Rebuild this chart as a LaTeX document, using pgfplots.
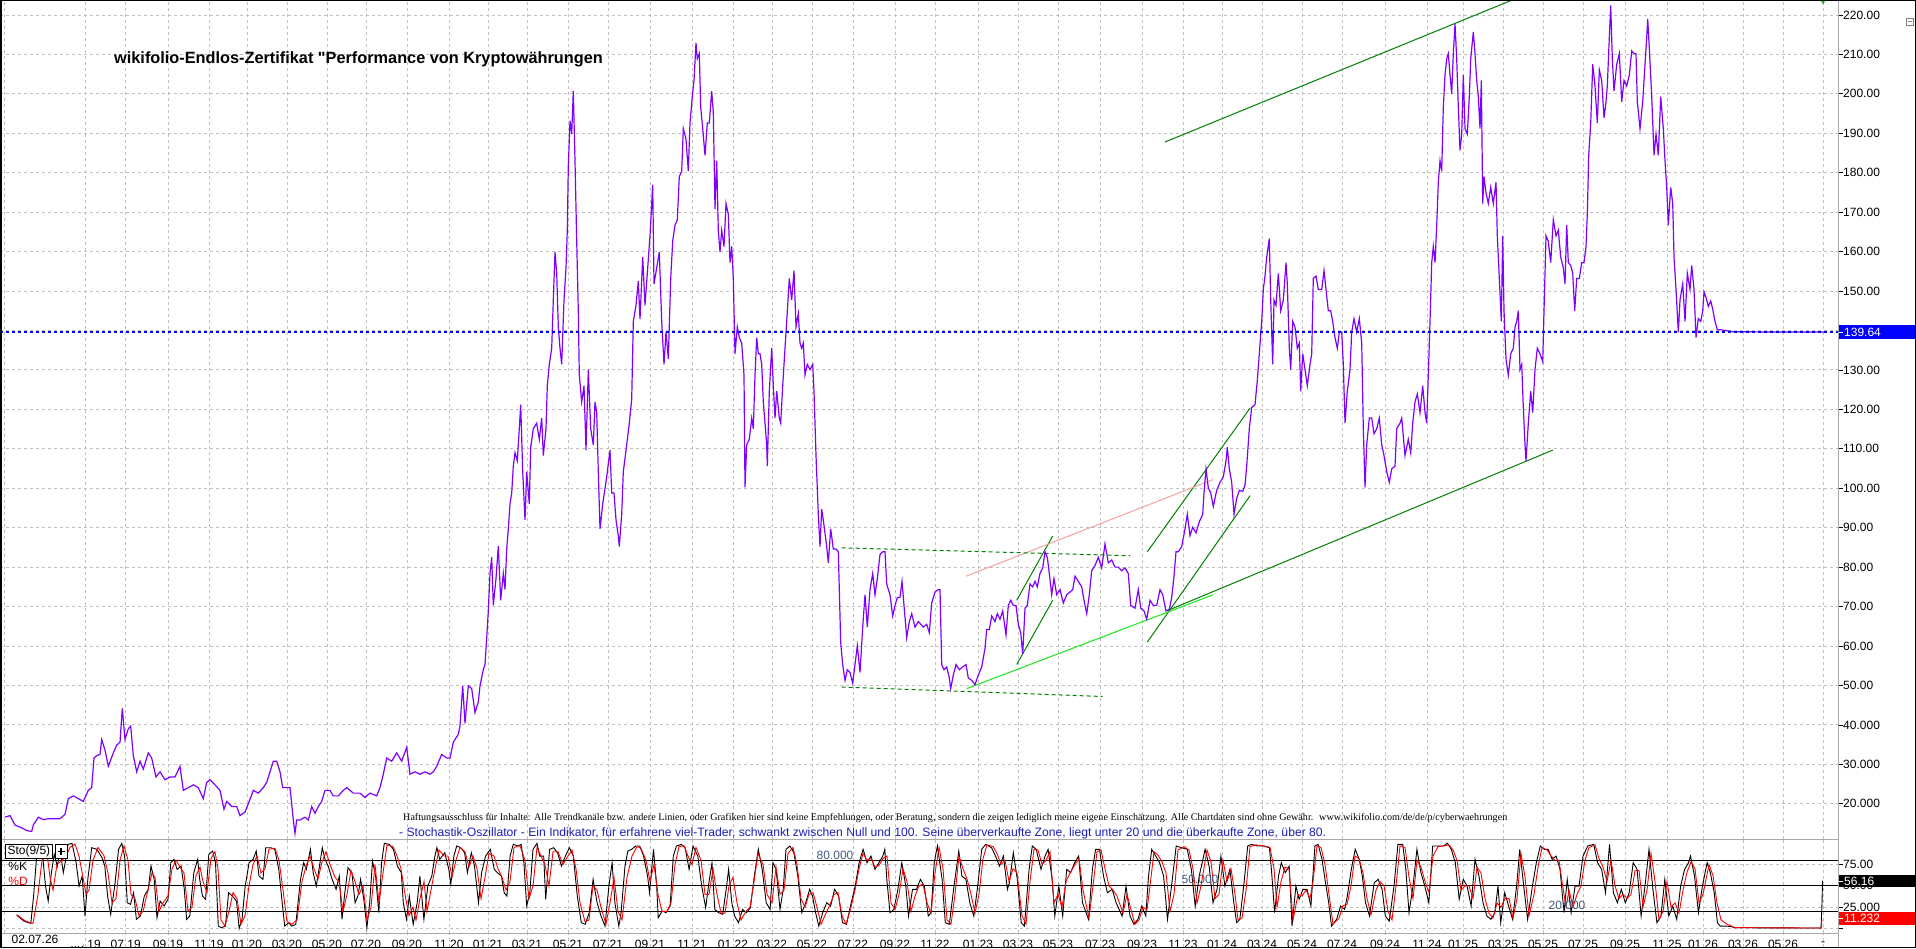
\documentclass[border=0pt]{standalone}
\usepackage{fontspec}
\setmainfont{Liberation Sans}
\newfontfamily\timesfont{Liberation Serif}
\newfontfamily\titlefont{Liberation Sans Bold}
\usepackage{graphicx}
\usepackage{pgfplots}
\pgfplotsset{compat=1.18}
\definecolor{pricecol}{RGB}{128,0,255}
\definecolor{gridcol}{RGB}{192,192,192}
\definecolor{dkgreen}{RGB}{0,128,0}
\definecolor{limegreen}{RGB}{40,230,40}
\definecolor{pinkline}{RGB}{245,160,160}
\definecolor{navytext}{RGB}{30,30,190}
\definecolor{stolabel}{RGB}{70,90,130}
\definecolor{axisgray}{RGB}{170,170,170}
\begin{document}
\begin{tikzpicture}[x=1pt,y=1pt]
\fill[white] (0,0) rectangle (1916,948);
\useasboundingbox (0,0) rectangle (1916,948);
\pgfplotsset{
  gstyle/.style={dash pattern=on 3pt off 3pt, color=gridcol, line width=0.9pt},
}
% ---------------- main price panel ----------------
\begin{axis}[
  at={(0pt,109pt)}, anchor=south west,
  scale only axis, width=1838pt, height=839pt,
  xmin=0, xmax=1838, ymin=11.07, ymax=223.8,
  xtick={4.7,85.7,125.7,168,209,247,287,327,366,407,449,488,527,568,608,650,692,733,772,812,853,895,935,978,1018,1058,1100,1142,1183,1222,1262,1302,1342,1385,1427,1463,1503,1543,1583,1625,1667,1703,1743,1783,1823},
  xticklabels={},
  xtick style={draw=none},
  ytick={20,30,40,50,60,70,80,90,100,110,120,130,140,150,160,170,180,190,200,210,220},
  yticklabels={20.000,30.000,40.000,50.00,60.00,70.00,80.00,90.00,100.00,110.00,120.00,130.00,140.00,150.00,160.00,170.00,180.00,190.00,200.00,210.00,220.00},
  ytick pos=right, tick align=outside, major tick length=4.5pt,
  ytick style={black, line width=0.8pt},
  yticklabel style={font=\fontsize{12}{12}\selectfont, anchor=west, inner sep=0pt, xshift=0.5pt},
  grid=major, major grid style={gstyle},
  axis line style={draw=axisgray, line width=0.8pt},
]
% trend lines
\addplot[dkgreen, line width=1pt] coordinates {(1165,187.8) (1520,224.6)};
\addplot[dkgreen, line width=1pt] coordinates {(1166.7,68.9) (1553,109.7)};
\addplot[dkgreen, line width=1pt] coordinates {(1016.7,71.6) (1052.7,87.9)};
\addplot[dkgreen, line width=1pt] coordinates {(1016.7,55.3) (1052.7,71.6)};
\addplot[dkgreen, line width=1pt] coordinates {(1147.3,83.9) (1250,120.3)};
\addplot[dkgreen, line width=1pt] coordinates {(1147.3,61.0) (1250,98.1)};
\addplot[pinkline, line width=1pt] coordinates {(966,77.7) (1213,102.2)};
\addplot[limegreen, line width=1.1pt] coordinates {(966.7,49.2) (1213.3,73.0)};
\addplot[dkgreen, line width=1pt, dash pattern=on 4pt off 3pt] coordinates {(841.7,84.9) (1130,82.9)};
\addplot[dkgreen, line width=1pt, dash pattern=on 4pt off 3pt] coordinates {(841.7,49.6) (1102.7,47.2)};
% price
\addplot[pricecol, line width=1.2pt] coordinates {
(4.7,16.6) (10,17.0) (15,14.6) (21.7,13.9) (26.7,13.2) (31.7,13.0) (33.3,14.6) (38.3,16.6) (43.3,16.0) (48.3,16.2) (53.3,16.2) (60,16.2) (65,17.3) (68.3,21.3) (73.3,22.0) (78.3,21.3) (83.3,20.6) (88.3,23.4) (91.7,24.1) (94,31.6) (96.7,32.2) (100,32.5) (101.7,36.3) (105,33.6) (108.3,29.5) (113.3,32.9) (116.7,34.9) (120,35.6) (122.3,44.2) (125,36.3) (128.3,39.0) (130.7,39.7) (133.3,32.2) (136.7,28.1) (140,30.8) (143.3,28.8) (148.3,32.9) (151.7,31.6) (156,26.8) (160,28.1) (165,26.1) (170,26.8) (175,26.8) (180,29.5) (183.3,23.4) (188.3,24.1) (193.3,24.8) (198.3,24.1) (203.3,21.3) (206.7,25.4) (210,26.1) (215,24.8) (220,23.4) (224,18.6) (226.7,20.6) (231.7,19.3) (236.7,19.3) (240,17.0) (245,17.9) (248.3,20.0) (253.3,23.4) (258.3,22.7) (263.3,24.1) (266.7,25.4) (270,28.1) (273.3,30.8) (276.7,30.8) (280,28.1) (282.7,24.1) (286.7,24.1) (290,24.1) (291.7,20.0) (293.3,15.9) (295,12.5) (296.7,15.9) (300,15.9) (305,16.6) (308.3,15.9) (311.7,19.3) (315,17.6) (318.3,19.3) (321.7,20.6) (325,23.4) (330,23.4) (333.3,22.0) (338.3,22.0) (343.3,23.4) (346.7,24.1) (353.3,22.7) (360,22.7) (365,21.6) (370,22.7) (376.7,22.0) (380,24.1) (383.3,27.5) (386.7,31.6) (391.7,30.8) (396.7,32.9) (401.7,30.8) (406.7,34.3) (410,27.5) (415,28.1) (420,27.5) (425,28.1) (430,27.5) (433.3,28.1) (436.7,29.5) (441.7,32.5) (446.7,31.6) (450,31.6) (453.3,35.6) (458.3,37.6) (460,39.7) (462.7,49.9) (465,40.4) (468.3,49.9) (471.7,49.2) (475,43.1) (478.3,45.8)
(480,49.9) (483.3,54.0) (485,55.3) (486.7,62.1) (488.3,68.9) (490,78.4) (491.7,82.5) (493.3,70.3) (496,77.1) (498.3,85.3) (500.7,71.6) (503.3,78.4) (505,74.3) (506.7,84.6) (508.3,89.7) (510,96.0) (511.7,98.8) (513.3,105.6) (515,109.0) (517.3,107.0) (519.3,115.1) (520.7,121.2) (522.7,104.2) (525,92.0) (526.7,104.2) (529.3,96.0) (530.7,110.4) (533.3,115.1) (536.7,116.5) (539.3,112.4) (541.7,117.8) (543.3,108.3) (546,115.1) (547.3,126.0) (549.3,131.4) (551.7,135.5) (553.3,147.7) (555,159.9) (556.7,154.5) (558.3,140.9) (560,135.5) (561.7,131.4) (564,147.7) (566,155.9) (567.3,165.4) (568.3,181.7) (570,193.2) (571.7,189.8) (573.3,200.7) (575,183.0) (576.7,162.7) (578.3,145.0) (579.3,128.7) (581.7,121.9) (584,126.0) (586,109.7) (588.3,130.1) (590.7,115.1) (593.3,111.0) (595,121.9) (596.7,119.2) (598.3,104.2) (600,89.7) (602.7,96.0) (606.7,102.9) (610,109.7) (611.7,98.8) (614,98.8) (616,92.0) (618.3,87.9) (619.3,85.2) (621.7,93.4) (623.3,104.2) (626.7,111.0) (629.3,116.5) (631.7,122.6) (633.3,142.3) (636,146.4) (638.3,152.5) (640,142.9) (642.7,158.6) (645,146.4) (647.3,154.5) (650,164.0) (652.7,176.9) (654,151.8) (656.7,155.9) (659.3,159.9) (661.7,142.3) (664,131.4) (666,139.6) (668.3,132.8) (670.7,153.2) (672.7,162.7) (675,166.7) (677.3,168.1) (679.3,179.0) (681.7,180.4) (683.3,191.2) (686,188.5) (688.3,180.4) (690,192.6) (692.3,199.3) (694,203.4) (696,212.9) (697.3,208.9) (699.3,210.2) (700.7,196.6) (702.7,191.2) (705,184.4) (707.3,192.6) (709.3,192.6) (711.7,200.7) (713.3,195.3) (715,170.8) (716.7,183.0) (718.3,165.4) (720,159.9) (721.7,165.4) (724,161.3) (726,172.2) (728.3,169.5) (730,157.2) (731.7,161.3) (733.3,153.2) (735,134.1) (737.3,140.9) (739.3,138.2) (741.7,136.8) (744,128.7) (745,100.2) (746.7,111.0) (749.3,112.4) (751.7,117.8) (753.3,115.1) (755,128.7) (756.7,138.2) (758.3,134.1) (760,134.1) (761.7,131.4) (763.3,121.9) (765,116.5) (766.7,111.0) (767.3,105.6) (769.3,124.6) (771.7,135.5) (773.3,126.0) (775,117.8) (776.7,124.6) (779.3,117.8) (780.7,116.5) (782.7,126.0) (785,135.5) (786.7,142.3) (789.3,153.2) (791.7,147.7) (794,155.2) (796,140.9) (798.3,144.3) (800,136.8) (801.7,135.5) (803.3,136.8) (805,128.7) (807.3,131.4) (810,130.1) (812.7,131.4) (814,124.6) (816,108.3) (818.3,93.4) (820,85.2) (821.7,94.7) (824,90.6) (826.7,85.2) (828.3,81.1) (830.7,89.7) (833.3,84.6) (836,84.6) (838.3,83.9) (839.3,74.3) (840.7,60.8) (842.7,55.3) (845,51.3) (847.3,54.0) (850,53.3) (852.7,50.6) (855,55.3) (857.3,60.1) (860,53.3) (862.7,64.8) (865,73.0) (867.3,64.8) (870,74.3) (872.7,78.4) (875,73.0) (877.3,77.1) (880,83.2) (882.7,83.9) (885,83.9) (886.7,75.7) (890,73.0) (892.7,67.6) (895,70.3) (897.3,72.3) (900,72.3) (902,76.4) (904,70.3) (906.7,62.1) (909.3,66.2) (911.7,68.2) (915,64.8) (918.3,66.2) (923.3,64.8) (926.7,65.5) (929.3,63.4) (931.7,70.9) (935,73.7) (938.3,74.3) (940,74.3)
(941.7,55.3) (944,54.0) (946.7,54.7) (949.3,51.9) (950.7,49.2) (953.3,52.6) (956,55.3) (959.3,54.0) (962.7,54.7) (966,55.3) (968.3,51.9) (971.7,51.3) (975,50.2) (978.3,52.6) (981.7,54.7) (985,59.4) (986.7,64.2) (989.3,64.2) (991.7,67.6) (995,66.2) (997.3,68.2) (1000,66.8) (1002.7,68.9) (1006,62.8) (1008.3,70.3) (1010.7,71.6) (1013.3,70.3) (1016,70.3) (1018.3,65.5) (1020.7,63.4) (1022.7,58.0) (1025,69.6) (1027.3,70.3) (1030,75.7) (1032.7,75.0) (1035,76.4) (1037.3,75.0) (1040,78.4) (1042.7,79.8) (1045,83.9) (1047.3,82.5) (1049.3,78.4) (1051.7,73.0) (1054,77.1) (1056.7,73.0) (1060,74.3) (1063.3,70.9) (1066.7,73.0) (1070,73.7) (1072.7,74.3) (1075,77.7) (1078.3,76.4) (1081.7,75.0) (1084,71.6) (1086.7,68.2) (1089.3,73.0) (1091.7,79.1) (1095,80.4) (1098.3,82.5) (1101.7,79.8) (1105,85.9) (1108.3,81.1) (1111.7,81.8) (1115,80.0) (1118.3,80.0) (1121.7,79.1) (1125,79.8) (1128.3,78.4) (1130.7,70.3) (1135,69.6) (1138.3,74.3) (1140.7,69.6) (1144,68.9) (1146.7,66.8) (1150,71.6) (1153.3,70.3) (1156.7,70.3) (1160,74.3) (1162.7,73.0) (1166,68.9) (1169.3,69.3) (1171.7,72.3) (1174,77.7) (1176,83.9) (1178.3,83.9) (1181.7,85.2) (1185,89.7) (1187.3,93.4) (1190,88.0) (1192.7,90.1) (1196,88.7) (1199.3,91.5) (1202.7,93.4) (1204,98.8) (1206,104.9) (1208.3,100.1) (1210.7,98.8) (1213.3,95.4) (1216.7,99.5) (1220,101.5) (1223.3,102.9) (1226,106.9) (1227.3,110.4) (1229.3,104.9) (1231.7,101.5) (1234,93.4) (1236.7,97.4) (1239.3,99.5) (1242.7,99.2) (1245,100.8) (1246.7,105.6) (1249.3,115.1) (1251.7,120.5) (1255,121.2) (1257.3,127.3) (1259.3,134.1) (1261.7,142.3) (1263.3,150.4) (1265,153.8) (1266.7,158.6) (1269.3,163.3) (1270.7,147.7) (1272.7,131.4) (1274,147.7) (1276,146.4) (1278.3,154.5) (1280.7,145.0) (1283.3,147.7) (1286,157.2) (1287.3,151.8) (1289.3,135.5) (1290.7,130.1) (1292.7,142.3) (1295,140.9) (1297.3,135.5) (1299.3,136.8) (1300.7,124.6) (1302.7,134.1) (1305,130.1) (1307.3,126.0) (1310,131.4) (1311.7,134.1) (1313.3,153.2) (1316,153.8) (1318.3,150.4) (1321.7,150.4) (1324,155.2) (1326,150.4) (1328.3,145.0) (1330.7,145.0) (1332.7,142.3) (1335,138.2) (1337.3,135.5) (1339.3,139.6) (1341.7,139.6) (1343.3,131.4) (1345,116.5) (1347.3,124.6) (1350,130.1) (1351.7,139.6) (1354,143.0) (1356.7,139.6) (1359.3,143.0) (1361.7,136.8) (1363.3,115.1) (1365,100.2) (1366.7,111.0) (1369.3,117.8) (1371.7,117.8) (1374,113.8) (1376.7,115.1) (1379.3,117.8) (1381.7,111.0) (1384,108.3) (1386.7,104.2) (1389.3,101.5) (1391.7,104.9) (1395,105.6) (1396.7,115.1) (1400,116.5)
(1401.7,117.8) (1405,108.3) (1408.3,112.4) (1410.7,109.0) (1412.7,116.5) (1415,121.9) (1417.3,123.9) (1420,119.2) (1422.7,126.0) (1425,119.2) (1426.7,116.5) (1428.3,128.7) (1430,142.3) (1431.7,157.2) (1433.3,161.3) (1435,157.2) (1436.7,166.7) (1438.3,177.6) (1440,183.0) (1441.7,180.4) (1443.3,196.6) (1445,204.8) (1446.7,208.9) (1448.3,210.2) (1450,204.8) (1451.7,200.0) (1453.3,210.2) (1455,217.7) (1456.7,208.9) (1458.3,196.6) (1460,185.7) (1461.7,189.8) (1463.3,204.8) (1465,191.2) (1467.3,189.8) (1469.3,199.3) (1470.7,208.9) (1473.3,215.7) (1475,210.2) (1476.7,203.4) (1478.3,199.3) (1480,191.2) (1481.3,203.4) (1482.7,172.2) (1484,179.0) (1486,174.9) (1488.3,172.2) (1490.7,176.3) (1493.3,172.2) (1496,177.6) (1497.3,164.0) (1499.3,153.2) (1501.3,142.3) (1502.7,164.0) (1504,145.0) (1506,132.8) (1508.3,128.7) (1510.7,134.1) (1513.3,135.5) (1515,140.9) (1516.7,142.3) (1518.3,145.0) (1520,130.1) (1521.7,131.4) (1523.3,120.5) (1525,111.0) (1526,106.9) (1528.3,116.5) (1530.7,124.6) (1532.7,119.2) (1535,130.1) (1537.3,135.5) (1540,134.1) (1542.7,132.1) (1544,145.0) (1546,164.0) (1548.3,162.6) (1550.7,157.2) (1553.3,168.1) (1556,164.0) (1558.3,165.4) (1560.7,158.6) (1563.3,155.9) (1565,151.8) (1566.7,166.7) (1568.3,157.2) (1570.7,156.5) (1572.7,154.5) (1574.7,145.0) (1576.7,153.2) (1579.3,153.2) (1581.7,157.2) (1584,157.2) (1586,161.3) (1587.3,169.5) (1588.7,184.4) (1590.7,192.6) (1592.7,207.5) (1595,202.0) (1597.3,192.6) (1599.3,206.1) (1601.7,203.4) (1604,193.9) (1606,198.0) (1607.3,202.0) (1609.3,214.3) (1610.7,222.4) (1612.3,208.9) (1614,200.7) (1616.7,207.5) (1619.3,210.2) (1621.7,198.0) (1624,203.4) (1626.7,202.0) (1629.3,204.8) (1631.7,210.9) (1634,210.2) (1636,210.2) (1637.3,198.0) (1640,191.2) (1642.7,198.0) (1645,207.5) (1646.7,214.3) (1647.7,219.0) (1649.3,211.6) (1651.7,199.3) (1654,184.4) (1656,189.8) (1658.3,184.4) (1660.7,199.3) (1663.3,191.2) (1665,183.0) (1666.7,176.3) (1668.3,166.7) (1670.7,176.3) (1672.7,172.2) (1674,158.6) (1676,150.4) (1678.3,139.6) (1680,147.7) (1682.7,151.8) (1685,142.3) (1687.3,154.5) (1690,150.4) (1691.7,156.5) (1694,150.4) (1696,138.2) (1698.3,143.0) (1700.7,142.3) (1702.7,145.0) (1704,149.8) (1706,148.4) (1708.3,146.1) (1710.7,147.5) (1712.7,145.4) (1715,142.3) (1717.3,140.2) (1720,140.2) (1733.3,139.7) (1780,139.6) (1825,139.6)
};
% last price line
\addplot[blue, line width=1.2pt, dash pattern=on 3pt off 3pt] coordinates {(0,139.64) (1838,139.64)};
% marker at top
\addplot[only marks, mark=triangle*, mark size=4pt, color=limegreen!80!black, mark options={rotate=180}] coordinates {(1823,223.8)};
\end{axis}
% ---------------- stochastic panel ----------------
\begin{axis}[
  at={(0pt,15pt)}, anchor=south west,
  scale only axis, width=1838pt, height=94pt,
  xmin=0, xmax=1838, ymin=-5.3, ymax=104.9,
  xtick={4.7,85.7,125.7,168,209,247,287,327,366,407,449,488,527,568,608,650,692,733,772,812,853,895,935,978,1018,1058,1100,1142,1183,1222,1262,1302,1342,1385,1427,1463,1503,1543,1583,1625,1667,1703,1743,1783,1823},
  xticklabels={,05 19,07 19,09 19,11 19,01 20,03 20,05 20,07 20,09 20,11 20,01 21,03 21,05 21,07 21,09 21,11 21,01 22,03 22,05 22,07 22,09 22,11 22,01 23,03 23,05 23,07 23,09 23,11 23,01 24,03 24,05 24,07 24,09 24,11 24,01 25,03 25,05 25,07 25,09 25,11 25,01 26,03 26,05 26,-},
  xtick style={draw=none},
  xticklabel style={font=\fontsize{12}{12}\selectfont, anchor=center, inner sep=0pt, yshift=-6.5pt},
  ytick={0,25,50,75},
  yticklabels={,25.000,50.00,75.00},
  ytick pos=right, tick align=outside, major tick length=4.5pt,
  ytick style={black, line width=0.8pt},
  yticklabel style={font=\fontsize{12}{12}\selectfont, anchor=west, inner sep=0pt, xshift=0.5pt},
  grid=major, major grid style={gstyle},
  axis line style={draw=axisgray, line width=0.8pt},
]
\addplot[black, line width=1.3pt] coordinates {(0,80) (1838,80)};
\addplot[black, line width=1.3pt] coordinates {(0,50) (1838,50)};
\addplot[black, line width=1.3pt] coordinates {(0,20) (1838,20)};
% %K
\addplot[black, line width=0.9pt] coordinates {
(16.6,15.8) (23.7,8.7) (30.8,5.9) (33.6,38.0) (36.4,81.1) (39.5,88.8) (42.7,84.9) (45.5,49.7) (48.2,32.1) (51.4,65.4) (54.2,86.9) (57.3,73.2) (60.1,92.8) (63.3,65.4) (66.4,84.9) (68.0,98.6) (72.0,99.8) (75.9,79.0) (79.1,49.7) (82.2,61.4) (85.0,14.6) (87.8,57.6) (91.7,94.7) (96.9,92.8) (102.0,83.0) (104.8,73.2) (107.6,38.0) (110.7,16.6) (114.7,49.7) (118.6,92.8) (121.8,99.8) (124.6,84.9) (127.3,30.2) (130.5,28.3) (133.6,41.9) (136.4,10.7) (140.4,14.6) (144.3,38.0) (148.3,45.9) (151.0,73.2) (154.2,57.6) (157.0,12.6) (160.1,32.1) (164.1,26.3) (168.0,34.2) (170.8,77.1) (174.0,81.1) (177.1,69.3) (181.1,73.2) (184.3,45.9) (186.6,10.7) (189.8,14.6) (193.8,65.4) (197.7,81.1) (199.7,57.6) (202.5,38.0) (205.6,34.2) (208.8,86.9) (212.7,90.7) (215.5,77.1) (218.3,2.8) (221.4,0.9) (225.4,2.8) (228.6,41.9) (232.5,38.0) (236.5,32.1) (239.2,0) (242.0,10.7) (245.2,49.7) (249.1,77.1) (253.1,81.1) (256.2,90.7) (259.0,61.4) (263.0,57.6) (265.7,94.7) (270.9,94.7) (274.8,92.8) (278.8,69.3) (281.5,38.0) (284.7,2.8) (288.7,6.8) (291.8,2.8) (295.8,4.9) (300.5,57.6) (303.7,77.1) (306.4,69.3) (310.4,92.8) (313.2,65.4) (316.3,49.7) (319.5,73.2) (322.3,94.7) (325.0,81.1) (328.2,73.2) (332.1,57.6) (336.1,45.9) (339.3,61.4) (342.0,10.7) (344.8,41.9) (348.0,71.2) (351.9,65.4) (355.1,30.2) (357.9,38.0) (360.6,57.6) (363.8,34.2) (366.9,0.9) (369.7,30.2) (372.5,79.0) (375.6,61.4) (378.8,18.5) (381.6,77.1) (384.3,99.8) (389.5,98.6) (393.4,92.8) (397.4,73.2) (401.3,65.4) (403.3,30.2) (406.5,10.7) (409.3,38.0) (413.2,4.9) (417.2,30.2) (419.9,61.4) (423.9,10.7) (427.8,49.7) (431.8,61.4) (434.9,84.9) (436.9,94.7) (439.7,81.1) (444.8,88.8) (448.8,69.3) (450.8,51.8) (453.9,84.9) (456.7,96.7) (460.7,94.7) (464.6,88.8) (467.4,65.4) (471.3,88.8) (474.5,73.2) (478.5,30.2) (481.6,65.4) (485.6,84.9) (490.3,92.8) (494.3,69.3) (497.4,65.4) (501.4,61.4) (504.2,41.9) (506.9,38.0) (510.1,84.9) (513.2,98.6) (518.0,96.7) (521.1,98.6) (523.9,77.1) (526.7,26.3) (529.8,41.9) (533.0,92.8) (537.0,99.8) (539.7,84.9) (543.7,84.9) (545.7,34.2) (549.6,92.8) (553.6,94.7) (557.5,88.8) (561.5,73.2) (565.4,84.9) (569.4,94.7) (573.3,84.9) (577.3,38.0) (581.3,6.8) (585.2,4.9) (589.2,18.5) (593.1,57.6) (597.1,30.2) (601.0,14.6) (605.0,2.8) (608.9,49.7) (612.1,77.1) (614.9,30.2) (618.8,2.8)
(621.1,18.5) (625.0,73.2) (627.8,90.7) (631.7,92.8) (635.7,96.7) (639.7,96.7) (643.6,84.9) (647.6,61.4) (649.5,41.9) (653.5,92.8) (656.7,49.7) (658.2,12.6) (662.2,20.4) (666.1,18.5) (670.1,26.3) (673.3,84.9) (676.4,96.7) (681.2,98.6) (685.1,94.7) (689.1,69.3) (693.0,96.7) (697.8,84.9) (701.7,49.7) (705.7,24.4) (708.9,53.7) (712.0,77.1) (714.8,22.4) (718.7,18.5) (722.7,16.6) (726.6,49.7) (728.6,69.3) (731.8,30.2) (734.6,14.6) (738.5,6.8) (742.5,22.4) (746.4,18.5) (750.4,24.4) (754.3,61.4) (758.3,92.8) (762.2,69.3) (766.2,30.2) (770.1,22.4) (772.9,77.1) (776.1,69.3) (780.0,22.4) (783.2,45.9) (786.0,92.8) (789.9,96.7) (793.9,88.8) (797.8,61.4) (801.8,18.5) (805.7,30.2) (809.7,45.9) (812.5,38.0) (815.6,18.5) (818.8,2.8) (822.7,18.5) (826.7,30.2) (830.6,26.3) (834.6,45.9) (838.6,38.0) (842.5,6.8) (846.5,4.9) (851.2,30.2) (855.2,49.7) (859.1,77.1) (863.1,92.8) (867.0,77.1) (871.0,84.9) (874.9,69.3) (878.9,77.1) (882.8,84.9) (884.8,92.8) (886.8,57.6) (890.0,18.5) (893.9,22.4) (897.9,45.9) (901.8,77.1) (905.8,49.7) (908.5,14.6) (912.5,45.9) (916.4,45.9) (920.4,57.6) (924.3,49.7) (928.3,14.6) (931.1,18.5) (934.2,77.1) (937.4,96.7) (942.1,57.6) (945.3,6.8) (949.3,4.9) (954.0,49.7) (958.8,90.7) (961.9,61.4) (965.9,57.6) (969.8,30.2) (973.8,14.6) (977.7,49.7) (981.7,92.8) (985.6,98.6) (991.6,94.7) (995.5,84.9) (999.5,73.2) (1003.4,84.9) (1007.4,45.9) (1009.4,53.7) (1013.3,88.8) (1017.3,57.6) (1021.2,6.8) (1024.4,2.8) (1029.1,69.3) (1032.3,96.7) (1036.2,92.8) (1041.0,69.3) (1045.0,84.9) (1048.1,92.8) (1052.1,57.6) (1054.8,14.6) (1058.8,49.7) (1062.7,14.6) (1066.7,69.3) (1070.6,65.4) (1074.6,77.1) (1078.6,84.9) (1082.5,30.2) (1088.5,10.7) (1092.4,69.3) (1095.6,92.8) (1099.5,92.8) (1103.5,61.4) (1107.4,41.9) (1112.2,45.9) (1116.1,30.2) (1122.1,14.6) (1126.0,49.7) (1130.0,14.6) (1133.9,4.9) (1137.9,10.7) (1141.8,26.3) (1145.8,14.6) (1148.5,61.4) (1151.7,92.8) (1155.7,84.9) (1159.6,77.1) (1163.6,61.4) (1167.5,10.7) (1171.5,49.7) (1176.2,96.7) (1181.4,94.7) (1187.3,92.8) (1191.3,69.3) (1195.2,26.3) (1199.2,61.4) (1205.1,92.8) (1209.1,73.2) (1213.0,30.2) (1217.0,45.9) (1220.9,84.9) (1224.9,49.7) (1229.9,69.3)
(1233.8,30.2) (1236.6,6.8) (1239.8,10.7) (1243.7,49.7) (1247.7,96.7) (1251.6,98.6) (1257.6,96.7) (1263.5,96.7) (1269.4,94.7) (1271.4,69.3) (1274.6,18.5) (1278.5,61.4) (1281.3,77.1) (1285.2,65.4) (1289.2,73.2) (1292.0,2.8) (1295.9,49.7) (1299.1,34.2) (1303.0,45.9) (1307.0,45.9) (1310.9,26.3) (1314.9,96.7) (1318.1,98.6) (1322.0,81.1) (1326.0,49.7) (1328.7,30.2) (1331.5,2.8) (1336.6,10.7) (1340.6,26.3) (1344.6,22.4) (1347.3,38.0) (1351.3,69.3) (1355.2,92.8) (1359.2,81.1) (1362.3,61.4) (1365.5,30.2) (1369.5,14.6) (1374.2,53.7) (1378.2,57.6) (1382.1,45.9) (1385.3,14.6) (1389.2,8.7) (1394.0,49.7) (1397.9,98.6) (1402.7,98.6) (1405.8,69.3) (1409.0,18.5) (1413.0,49.7) (1416.9,92.8) (1420.9,65.4) (1424.8,49.7) (1428.8,30.2) (1432.7,96.7) (1437.5,96.7) (1443.4,96.7) (1447.4,100) (1451.3,92.8) (1455.3,77.1) (1459.2,34.2) (1463.2,57.6) (1467.1,49.7) (1471.1,26.3) (1475.0,81.1) (1479.0,61.4) (1483.0,30.2) (1486.9,14.6) (1490.9,10.7) (1494.8,18.5) (1498.0,49.7) (1500.7,6.8) (1504.7,41.9) (1508.6,26.3) (1512.6,10.7) (1516.6,49.7) (1519.7,92.8) (1523.7,49.7) (1527.6,10.7) (1532.4,49.7) (1536.3,77.1) (1540.3,96.7) (1544.2,92.8) (1548.2,92.8) (1552.1,81.1) (1556.1,84.9) (1560.0,69.3) (1564.0,18.5) (1567.2,57.6) (1571.1,18.5) (1575.1,49.7) (1579.0,49.7) (1583.0,84.9) (1587.7,96.7) (1593.7,98.6) (1597.6,77.1) (1601.6,69.3) (1605.5,41.9) (1609.5,98.6) (1613.4,41.9) (1617.4,30.2) (1621.3,45.9) (1625.3,30.2) (1629.2,41.9) (1633.2,77.1) (1637.1,69.3) (1641.1,14.6) (1645.0,49.7) (1649.0,92.8) (1652.9,45.9) (1656.9,6.8) (1660.9,14.6) (1664.8,57.6) (1668.8,14.6) (1672.7,26.3) (1676.7,10.7) (1680.6,49.7) (1684.6,69.3) (1688.5,77.1) (1690.5,84.9) (1694.5,61.4) (1698.4,18.5) (1702.4,49.7) (1707.1,77.1) (1710.3,65.4) (1714.2,41.9) (1717.4,6.8) (1720.2,2.8) (1726.1,2.8) (1732.0,2.1) (1734.0,0.9) (1821,0.5) (1822,30) (1822.5,56.16)
};
% %D
\addplot[red, line width=0.9pt] coordinates {
(17,16) (25,9) (33,6) (38,40) (42,80) (47,88) (50,60) (53,45) (57,75) (62,80) (66,85) (70,95) (75,99) (79,85) (83,60) (86,40) (89,45) (93,80) (98,95) (104,85) (108,65) (112,30) (116,35) (120,80) (124,97) (128,80) (131,40) (135,35) (139,15) (143,20) (147,40) (152,65) (155,60) (159,20) (163,30) (168,38) (172,70) (176,80) (180,72) (184,65) (188,20) (192,25) (196,62) (200,72) (203,55) (207,42) (211,82) (215,90) (218,70) (221,10) (225,3) (229,20) (233,42) (237,35) (241,5) (245,15) (249,50) (253,75) (257,85) (261,65) (265,70) (269,93) (275,94) (279,80) (283,45) (287,8) (292,5) (297,10) (302,55) (306,73) (310,85) (314,70) (318,58) (322,78) (326,90) (330,75) (335,60) (339,55) (343,20) (347,40) (351,68) (355,55) (359,40) (363,50) (367,10) (371,25) (375,75) (379,30) (383,65) (387,98) (393,96) (397,85) (401,70) (405,40) (409,15) (413,25) (416,10) (420,35) (424,55) (427,20) (431,45) (435,70) (439,92) (444,85) (448,85) (452,60) (456,80) (460,95) (465,90) (469,72) (473,85) (477,70) (481,35) (485,60) (489,88) (494,85) (498,70) (502,60) (506,45) (510,55) (514,95) (520,97) (525,80) (529,35) (533,50) (537,95) (541,85) (545,75) (549,50) (553,90) (558,90) (563,75) (568,85) (572,92) (576,70) (580,30) (585,8) (589,10) (593,50) (597,45) (601,25) (606,5) (610,30) (614,60) (618,20) (622,10) (627,60) (632,85) (637,96) (641,94) (646,80) (650,55) (654,75) (658,40) (662,20) (667,20) (671,30) (675,75) (679,96) (684,97) (688,85) (692,75) (696,95) (701,80) (705,40) (709,40) (713,70) (717,40) (721,18) (725,18) (729,50) (733,60) (737,30) (741,10) (746,20) (750,25) (754,55) (758,88) (763,75) (767,40) (772,30) (776,72) (780,40) (784,45) (788,88) (793,95) (797,75) (801,35) (805,25) (809,40) (813,42) (817,25) (821,5) (826,18) (830,28) (834,40) (838,42) (842,15) (846,5) (851,25) (855,45) (859,70) (863,88) (867,80) (871,82) (875,72) (879,74) (883,82) (887,85) (891,30) (895,22) (899,40) (903,70) (907,55) (911,20) (915,38) (919,50) (923,52) (927,30) (931,18) (935,65) (939,95) (943,70) (947,10) (951,5) (955,40) (959,85) (963,70) (967,58) (971,40) (975,18) (979,40) (983,82) (987,98) (993,96) (997,88) (1001,75) (1005,80) (1009,55) (1013,70) (1017,65) (1022,15) (1026,5) (1030,55) (1034,93) (1038,92) (1042,75) (1046,80) (1050,90) (1054,30) (1058,40) (1062,25) (1066,55) (1070,65) (1075,75) (1079,82) (1083,45) (1089,12) (1093,50) (1097,90) (1101,92) (1105,70) (1109,50) (1113,45) (1117,38) (1123,18) (1127,40) (1131,22) (1135,5) (1139,10) (1143,25) (1147,22) (1150,50) (1154,90) (1158,86) (1162,78) (1166,65) (1170,20) (1174,40) (1178,92) (1184,96) (1189,92) (1193,70) (1197,30) (1201,50) (1207,92) (1211,78) (1215,35) (1219,40) (1223,80) (1227,55) (1231,70) (1235,40) (1238,10) (1242,12) (1246,45) (1250,96) (1256,98) (1263,97) (1270,95) (1274,70) (1277,25) (1281,55) (1285,72) (1289,70) (1293,10) (1298,40) (1302,38) (1306,45) (1310,35) (1313,55) (1317,97) (1321,95) (1325,75) (1329,40) (1333,5) (1339,12) (1343,27) (1347,28) (1351,50) (1355,85) (1359,82) (1363,65) (1367,35) (1371,16) (1376,45) (1380,55) (1384,50) (1388,20) (1392,10) (1396,50) (1400,97) (1405,95) (1409,60) (1413,35) (1417,80) (1421,72) (1425,55) (1429,42) (1433,85) (1438,96) (1445,97) (1449,98) (1453,92) (1457,80) (1461,45) (1465,50) (1469,50) (1473,35) (1477,72) (1481,65) (1485,35) (1489,18) (1493,12) (1497,30) (1501,25) (1505,35) (1509,35) (1513,12) (1517,35) (1521,88) (1525,60) (1529,15) (1534,40) (1538,72) (1542,95) (1547,92) (1551,85) (1555,80) (1559,80) (1562,55) (1566,25) (1569,45) (1573,25) (1577,40) (1581,50) (1585,80) (1589,95) (1595,98) (1599,82) (1603,72) (1607,55) (1611,80) (1615,50) (1619,35) (1623,40) (1627,35) (1631,40) (1635,68) (1639,68) (1643,25) (1647,45) (1651,88) (1655,55) (1659,10) (1663,20) (1667,55) (1671,25) (1675,30) (1679,18) (1683,45) (1687,66) (1691,78) (1695,70) (1699,30) (1703,40) (1709,75) (1713,62) (1717,30) (1721,10) (1727,5) (1735,1) (1821,0.5) (1822,10.3)
};
\node[font=\fontsize{12}{12}\selectfont, text=stolabel] at (axis cs:835,86.1) {80.000};
\node[font=\fontsize{12}{12}\selectfont, text=stolabel] at (axis cs:1200,58) {50.000};
\node[font=\fontsize{12}{12}\selectfont, text=stolabel] at (axis cs:1567,27.6) {20.000};
\end{axis}
% gridline continuation in label row
\foreach \x in {85.7,125.7,168,209,247,287,327,366,407,449,488,527,568,608,650,692,733,772,812,853,895,935,978,1018,1058,1100,1142,1183,1222,1262,1302,1342,1385,1427,1463,1503,1543,1583,1625,1667,1703,1743,1783,1823}
  \draw[dash pattern=on 3pt off 3pt, gridcol, line width=0.9pt] (\x,1.5) -- (\x,14.5);
% first date label
\fill[white] (2,2) rectangle (82.5,14);
\node[font=\fontsize{12}{12}\selectfont, inner sep=0pt] at (35,8.5) {02.07.26};
% right axis line
\draw[axisgray, line width=0.8pt] (1838,0) -- (1838,948);
% value boxes
\fill[blue] (1838.5,609) rectangle (1915,623);
\draw[white, line width=0.8pt] (1838.5,616) -- (1842.5,616);
\node[font=\fontsize{12}{12}\selectfont, text=white, anchor=west, inner sep=0pt] at (1844,616) {139.64};
\fill[black] (1838.5,60.7) rectangle (1916,73.3);
\draw[white, line width=0.8pt] (1838.5,67) -- (1842.5,67);
\node[font=\fontsize{12}{12}\selectfont, text=white, anchor=west, inner sep=0pt] at (1844,67) {56.16};
\fill[red] (1838.5,22.7) rectangle (1916,36);
\draw[white, line width=0.8pt] (1838.5,29.3) -- (1842.5,29.3);
\node[font=\fontsize{12}{12}\selectfont, text=white, anchor=west, inner sep=0pt] at (1844,29.3) {11.232};
% indicator legend
\draw[black, fill=white, line width=0.8pt] (5,90) rectangle (52.7,103.3);
\node[font=\fontsize{12}{12}\selectfont, inner sep=0pt] at (28.85,96.6) {Sto(9/5)};
\draw[black, fill=white, line width=0.8pt] (55,90) rectangle (67.3,103.3);
\draw[black, line width=1.6pt] (57.5,96.6) -- (64.8,96.6) (61.15,93) -- (61.15,100.2);
\node[font=\fontsize{12}{12}\selectfont, anchor=west, inner sep=0pt] at (8.3,82) {\%K};
\node[font=\fontsize{12}{12}\selectfont, anchor=west, inner sep=0pt, text=red] at (8.3,67) {\%D};
% texts
\node[font=\titlefont\fontsize{16.3}{16.3}\selectfont, anchor=base west, inner sep=0pt] at (114,884) {wikifolio-Endlos-Zertifikat "Performance von Kryptowährungen};
\node[anchor=base west, inner sep=0pt] at (403,128) {\resizebox{1104pt}{!}{\timesfont\fontsize{11}{11}\selectfont Haftungsausschluss für Inhalte: Alle Trendkanäle bzw. andere Linien, oder Grafiken hier sind keine Empfehlungen, oder Beratung, sondern die zeigen lediglich meine eigene Einschätzung. Alle Chartdaten sind ohne Gewähr. \ www.wikifolio.com/de/de/p/cyberwaehrungen}};
\node[anchor=base west, inner sep=0pt, text=navytext] at (399,112) {\resizebox{927pt}{!}{\fontsize{12}{12}\selectfont - Stochastik-Oszillator - Ein Indikator, für erfahrene viel-Trader, schwankt zwischen Null und 100. Seine überverkaufte Zone, liegt unter 20 und die überkaufte Zone, über 80.}};
% small icon
\draw[gray, line width=0.7pt] (1906.5,923) rectangle (1913.5,930);
\draw[gray, line width=0.7pt] (1908,926.5) -- (1912,926.5);
% frame
\draw[black, line width=1.5pt] (0.75,0.75) rectangle (1915.25,947.25);
\end{tikzpicture}
\end{document}
